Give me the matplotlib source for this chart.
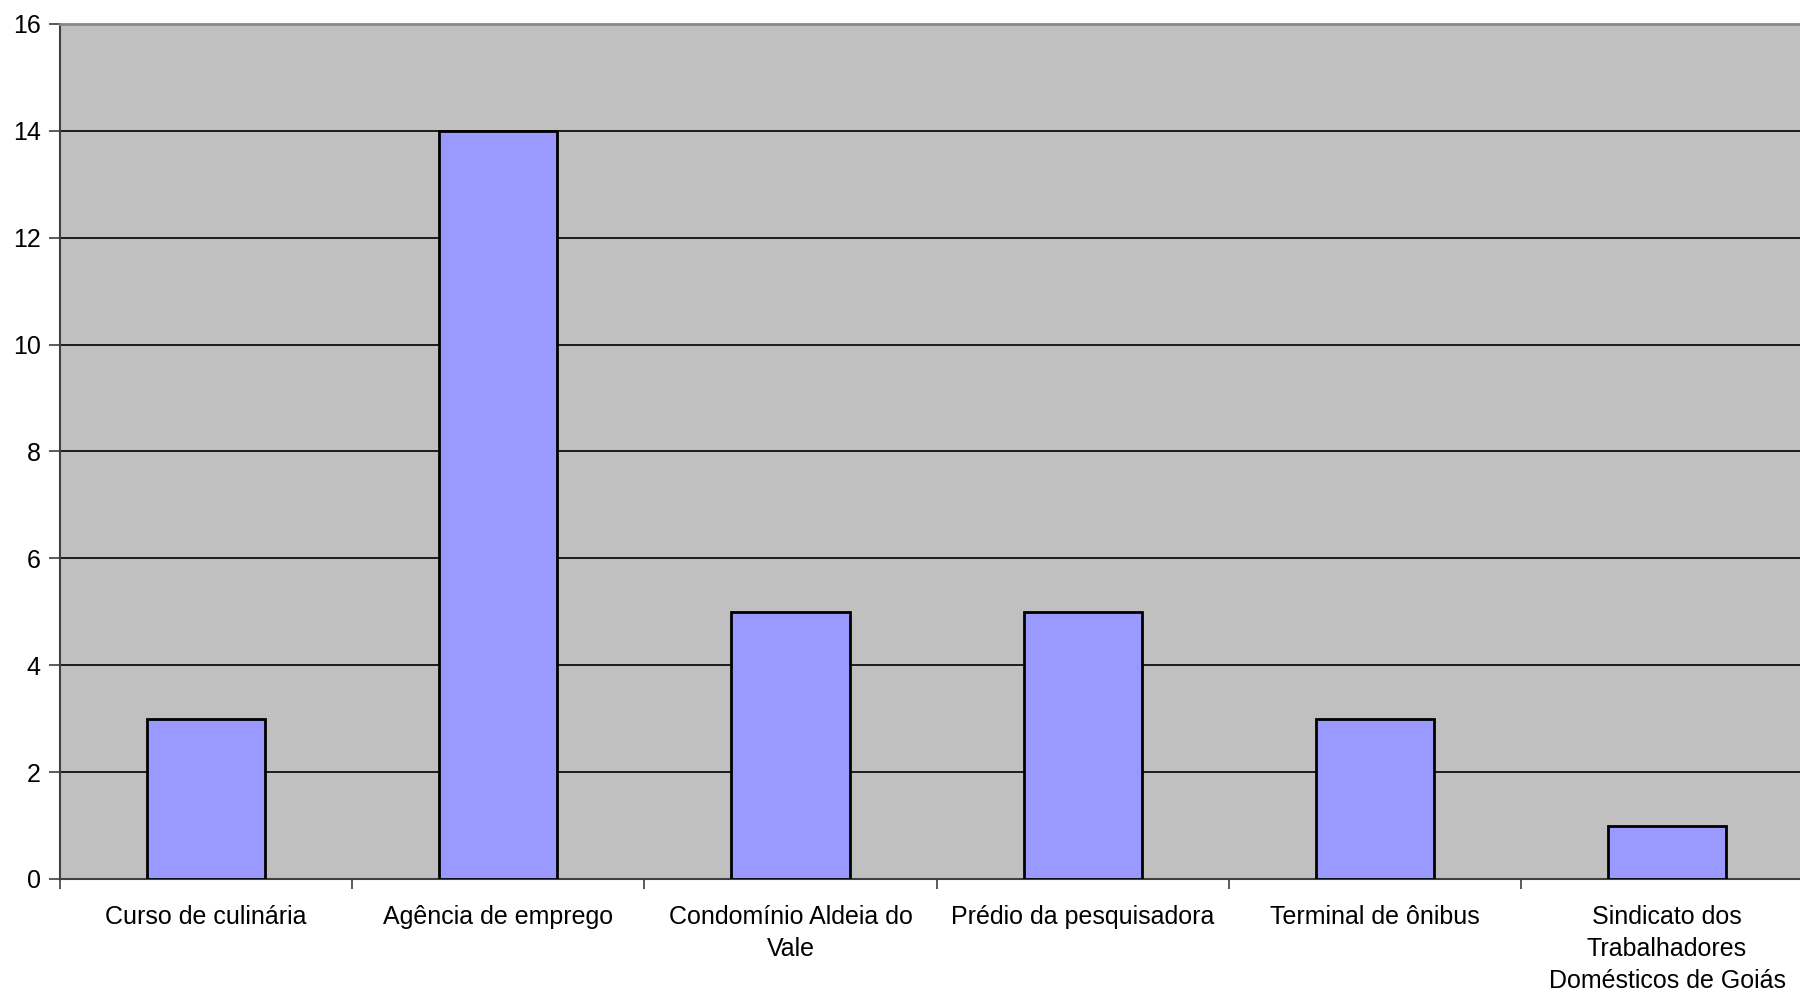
import matplotlib
matplotlib.use("Agg")
import matplotlib.pyplot as plt
import numpy as np

categories = ["Curso de culinária", "Agência de emprego", "Condomínio Aldeia do\nVale",
              "Prédio da pesquisadora", "Terminal de ônibus",
              "Sindicato dos\nTrabalhadores\nDomésticos de Goiás"]
values = [3, 14, 5, 5, 3, 1]
y_ticks = [0, 2, 4, 6, 8, 10, 12, 14, 16]

plt.rcParams['font.family'] = ['Liberation Sans', 'DejaVu Sans']

fig = plt.figure(figsize=(18, 9.93), dpi=100)
ax = fig.add_axes([60/1800, 114/993, 1 - 60/1800, 855/993])
ax.set_facecolor('#C0C0C0')

x = np.arange(len(categories))
ax.bar(x, values, width=0.405, color='#9999FF', edgecolor='black', linewidth=2, zorder=3)

ax.set_yticks(y_ticks)
ax.set_yticklabels([str(v) for v in y_ticks], fontsize=18)
ax.yaxis.grid(True, color='black', linewidth=1.2, zorder=1)
ax.set_axisbelow(True)

# boundary ticks without labels, labels at the centres
ax.set_xticks(np.arange(-0.5, len(categories) - 1, 1.0))
ax.set_xticklabels([])
ax.set_xticks(x, minor=True)
ax.set_xticklabels(categories, minor=True, fontsize=18, linespacing=1.41)
ax.tick_params(axis='x', which='minor', length=0, pad=19)
ax.tick_params(axis='x', which='major', length=7, width=1.2, color='#404040')
ax.tick_params(axis='y', length=8, width=1.2, color='#404040', pad=6)

# the chart is cut off on the right, as in the original
ax.set_xlim(-0.5, 5.455)
ax.set_ylim(0, 16)

for side in ['left', 'bottom']:
    ax.spines[side].set_color('#404040')
    ax.spines[side].set_linewidth(1.5)
ax.spines['top'].set_color('#888888')
ax.spines['top'].set_linewidth(2)
ax.spines['right'].set_visible(False)

fig.savefig('out.png', dpi=100)
